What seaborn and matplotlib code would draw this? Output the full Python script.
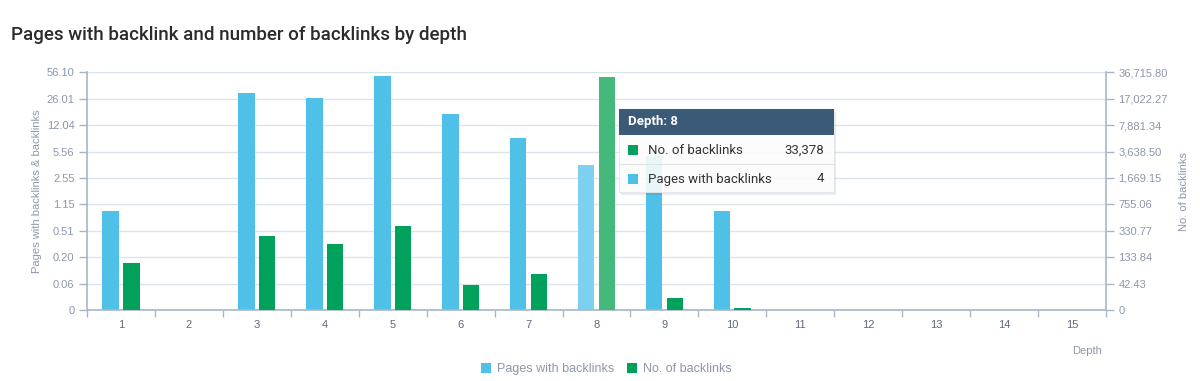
import numpy as np
import pandas as pd
import matplotlib
matplotlib.use("Agg")
import matplotlib.pyplot as plt
import seaborn as sns
from matplotlib.patches import Patch, Rectangle
from matplotlib.ticker import FixedLocator, FuncFormatter
from matplotlib.lines import Line2D

# ---------------- data ----------------
depths = [str(i) for i in range(1, 16)]
pages_with_backlinks = [1, 0, 32, 27, 52, 18, 9, 4, 5, 1, 0, 0, 0, 0, 0]
no_of_backlinks = [115, 0, 293, 230, 407, 40, 75, 33378, 20, 3, 0, 0, 0, 0, 0]
left_ticks = [0, 0.06, 0.20, 0.51, 1.15, 2.55, 5.56, 12.04, 26.01, 56.10]
right_ticks = [0, 42.43, 133.84, 330.77, 755.06, 1669.15, 3638.50, 7881.34, 17022.27, 36715.80]
series = ["Pages with backlinks", "No. of backlinks"]
hover_depth = "8"
tooltip_title = "Depth: 8"
tooltip_rows = [("No. of backlinks", "33,378"), ("Pages with backlinks", "4")]

# ---------------- style ----------------
BLUE = "#4fc1e9"
GREEN = "#00a25b"
BLUE_HOVER = "#7dd0f0"
GREEN_HOVER = "#45b97c"
SPINE = "#a9b6c6"
GRID = "#dde3ea"
TICKTXT = "#8c97a9"
AXTXT = "#5f6b7a"

sns.set_theme(style="white")
plt.rcParams["font.family"] = ["Liberation Sans", "DejaVu Sans"]

W, H = 1200, 381
fig = plt.figure(figsize=(W / 100, H / 100), dpi=100)
L, R, B, T = 87, 1106, 310, 72.3
ax = fig.add_axes([L / W, 1 - B / H, (R - L) / W, (B - T) / H])
ax2 = ax.twinx()


def make_scale(ticks):
    idx = np.arange(len(ticks), dtype=float)
    tv = np.array(ticks, dtype=float)

    def fwd(v):
        return np.interp(np.asarray(v, dtype=float), tv, idx)

    def inv(k):
        return np.interp(np.asarray(k, dtype=float), idx, tv)

    return fwd, inv


n = len(depths)
df_left = pd.DataFrame({
    "depth": depths * 2,
    "series": [series[0]] * n + [series[1]] * n,
    "value": pages_with_backlinks + [0] * n,
})
df_right = pd.DataFrame({
    "depth": depths * 2,
    "series": [series[0]] * n + [series[1]] * n,
    "value": [0] * n + no_of_backlinks,
})

kw = dict(x="depth", y="value", hue="series", hue_order=series,
          palette=[BLUE, GREEN], width=0.61, gap=0.2, saturation=1,
          errorbar=None, legend=False, linewidth=0, order=depths)
sns.barplot(data=df_left, ax=ax, **kw)
sns.barplot(data=df_right, ax=ax2, **kw)

hi = depths.index(hover_depth)
for a, col in ((ax, BLUE_HOVER), (ax2, GREEN_HOVER)):
    for p in a.patches:
        cx = p.get_x() + p.get_width() / 2
        if abs(cx - hi) < 0.5 and p.get_height() > 0:
            p.set_facecolor(col)

# scales
f1, i1 = make_scale(left_ticks)
f2, i2 = make_scale(right_ticks)
ax.set_yscale("function", functions=(f1, i1))
ax2.set_yscale("function", functions=(f2, i2))
ax.set_ylim(0, left_ticks[-1])
ax2.set_ylim(0, right_ticks[-1])
ax.yaxis.set_major_locator(FixedLocator(left_ticks))
ax2.yaxis.set_major_locator(FixedLocator(right_ticks))
ax.yaxis.set_minor_locator(FixedLocator([]))
ax2.yaxis.set_minor_locator(FixedLocator([]))
ax.yaxis.set_major_formatter(FuncFormatter(lambda v, p: "0" if v == 0 else f"{v:.2f}"))
ax2.yaxis.set_major_formatter(FuncFormatter(lambda v, p: "0" if v == 0 else f"{v:,.2f}"))

ax.set_xlim(-0.5, n - 0.5)
ax.set_xticks(range(n))
ax.set_xticklabels(depths)
ax.set_xticks(np.arange(-0.5, n, 1.0), minor=True)

ax.grid(axis="y", color=GRID, linewidth=1)
ax.set_axisbelow(True)
ax2.grid(False)

for s in ("top", "right"):
    ax.spines[s].set_visible(False)
for s in ("top", "left", "bottom"):
    ax2.spines[s].set_visible(False)
for a, s in ((ax, "left"), (ax, "bottom"), (ax2, "right")):
    a.spines[s].set_color(SPINE)
    a.spines[s].set_linewidth(1.2)

ax.tick_params(axis="y", length=6, width=1, color=SPINE, labelsize=8, labelcolor=TICKTXT, pad=3, left=True)
ax2.tick_params(axis="y", length=6, width=1, color=SPINE, labelsize=8, labelcolor=TICKTXT, pad=3, right=True)
ax.tick_params(axis="x", which="major", length=0, labelsize=8, labelcolor=AXTXT, pad=7)
ax.tick_params(axis="x", which="minor", length=5, width=1, color=SPINE, bottom=True)

ax.set_xlabel("")
ax.set_ylabel("Pages with backlinks & backlinks", fontsize=8, color=TICKTXT, labelpad=3)
ax2.set_ylabel("No. of backlinks", fontsize=8, color=TICKTXT, labelpad=8)
ax2.set_xlabel("")

fig.text(1087 / W, 1 - 351 / H, "Depth", fontsize=8, color=TICKTXT, ha="center", va="center")

# title
fig.text(11 / W, 1 - 35 / H, "Pages with backlink and number of backlinks by depth",
         fontsize=13.5, color="#2b2b2b", ha="left", va="center",
         family=["Roboto", "DejaVu Sans"], weight="medium")

# legend
handles = [Patch(facecolor=BLUE, edgecolor="none"), Patch(facecolor=GREEN, edgecolor="none")]
leg = fig.legend(handles, series, loc="center", bbox_to_anchor=(0.5055, 1 - 369 / H), ncol=2,
                 frameon=False, fontsize=9, handlelength=0.8, handleheight=0.8,
                 handletextpad=0.5, columnspacing=1.0)
for t in leg.get_texts():
    t.set_color(TICKTXT)


# tooltip
def fx(x):
    return x / W


def fy(y):
    return 1 - y / H


tx0, tx1, ty0, ty1 = 619, 834, 109, 192
fig.patches.append(Rectangle((fx(tx0 + 2), fy(ty1 + 3)), (tx1 - tx0) / W, (ty1 - ty0) / H,
                             transform=fig.transFigure, facecolor="#000000", alpha=0.08,
                             edgecolor="none", zorder=10))
fig.patches.append(Rectangle((fx(tx0), fy(ty1)), (tx1 - tx0) / W, (ty1 - ty0) / H,
                             transform=fig.transFigure, facecolor="white", alpha=0.88,
                             edgecolor="#e2e6ea", linewidth=0.8, zorder=11))
fig.patches.append(Rectangle((fx(tx0), fy(135)), (tx1 - tx0) / W, (135 - ty0) / H,
                             transform=fig.transFigure, facecolor="#3b5a78",
                             edgecolor="none", zorder=12))
fig.text(fx(628), fy(122), tooltip_title, fontsize=9.5, color="white", weight="bold",
         ha="left", va="center", family=["Roboto", "DejaVu Sans"], zorder=13)
row_y = [150, 179]
row_col = [GREEN, BLUE]
for (lab, val), yy, c in zip(tooltip_rows, row_y, row_col):
    fig.patches.append(Rectangle((fx(628), fy(yy + 5)), 10 / W, 10 / H, transform=fig.transFigure,
                                 facecolor=c, edgecolor="none", zorder=13))
    fig.text(fx(648), fy(yy), lab, fontsize=9.5, color="#333333", ha="left", va="center",
             family=["Roboto", "DejaVu Sans"], zorder=13)
    fig.text(fx(824), fy(yy), val, fontsize=9.5, color="#333333", ha="right", va="center",
             family=["Roboto", "DejaVu Sans"], zorder=13)
fig.lines.append(Line2D([fx(tx0), fx(tx1)], [fy(164), fy(164)], transform=fig.transFigure,
                        color="#dfe3e8", linewidth=0.8, zorder=13))

fig.savefig("out.png", dpi=100)
